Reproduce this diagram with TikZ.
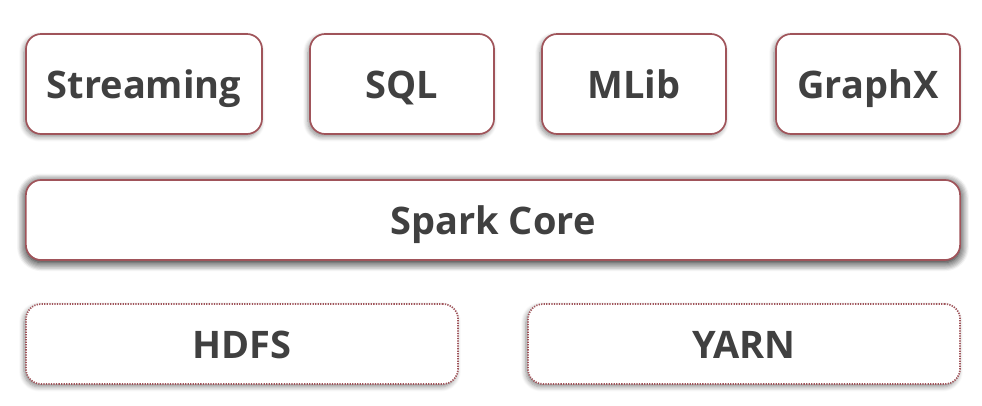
\documentclass[tikz,border=0pt]{standalone}
\usepackage{fontspec}
\setmainfont{Open Sans}
\usepackage{tikz}
\usetikzlibrary{shadows.blur}

\definecolor{boxline}{HTML}{A0545A}
\definecolor{boxtext}{HTML}{404040}

\tikzset{
	layer/.style = {draw = boxline, line width = 1.2pt, fill = white,
		rounded corners = 0.38cm, text = boxtext,
		font = \fontsize{27}{30}\selectfont\bfseries,
		text height = 26pt, text depth = 6pt,
		blur shadow = {shadow xshift = -0.5mm, shadow yshift = -0.7mm,
			shadow blur steps = 6, shadow blur radius = 1.2mm,
			shadow opacity = 45}},
	core/.style = {layer, blur shadow = {shadow xshift = 0mm,
			shadow yshift = -0.6mm, shadow blur steps = 8,
			shadow blur radius = 2.2mm, shadow opacity = 60}},
	store/.style = {layer, dash pattern = on 0.9pt off 0.9pt}
}

\begin{document}
\begin{tikzpicture}[x=0.025cm, y=-0.025cm]
\useasboundingbox (0, 0) rectangle (982, 406);

% modules
\node[layer, minimum width = 5.9cm, minimum height = 2.5cm] (streaming) at (144, 84) {Streaming};
\node[layer, minimum width = 4.6cm, minimum height = 2.5cm] (sql) at (402, 84) {SQL};
\node[layer, minimum width = 4.6cm, minimum height = 2.5cm] (mlib) at (634, 84) {MLib};
\node[layer, minimum width = 4.6cm, minimum height = 2.5cm] (graphx) at (868, 84) {GraphX};

% core
\node[core, minimum width = 23.35cm, minimum height = 2cm] (sparkcore) at (493, 220) {Spark Core};

% storage and resources
\node[store, minimum width = 10.8cm, minimum height = 2cm] (hdfs) at (242, 344) {HDFS};
\node[store, minimum width = 10.8cm, minimum height = 2cm] (yarn) at (744, 344) {YARN};
\end{tikzpicture}
\end{document}
